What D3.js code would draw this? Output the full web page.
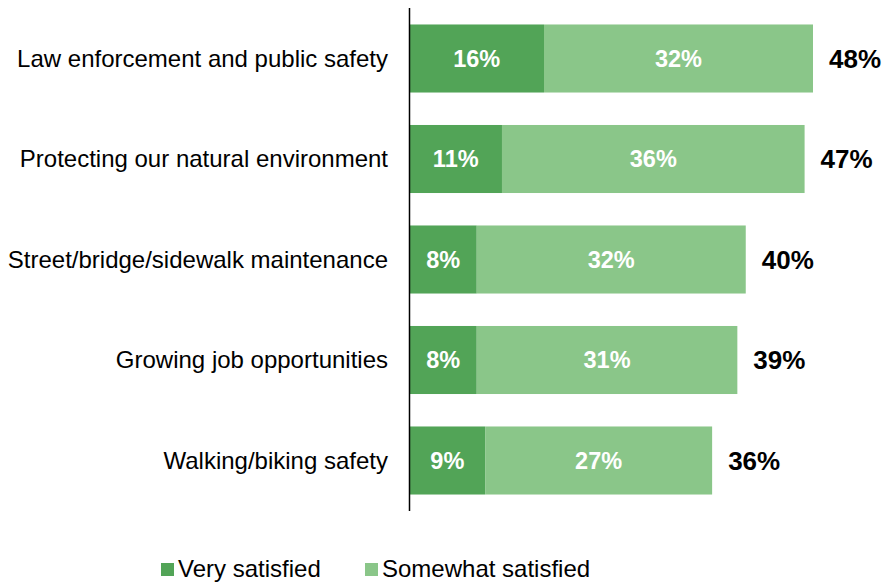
<!DOCTYPE html>
<html>
<head>
<meta charset="utf-8">
<script src="https://cdn.jsdelivr.net/npm/d3@7"></script>
<style>
  body { margin: 0; background: #fff; }
  svg { font-family: "Liberation Sans", Arial, sans-serif; }
</style>
</head>
<body>
<svg id="chart" width="885" height="583"></svg>
<script>
// Data
var categories = [
  "Law enforcement and public safety",
  "Protecting our natural environment",
  "Street/bridge/sidewalk maintenance",
  "Growing job opportunities",
  "Walking/biking safety"
];
var verySatisfied = [16, 11, 8, 8, 9];
var somewhatSatisfied = [32, 36, 32, 31, 27];
var totals = [48, 47, 40, 39, 36];
var seriesNames = ["Very satisfied", "Somewhat satisfied"];
var seriesColors = ["#52a457", "#8ac689"];

var svg = d3.select("#chart");

// Scales
var x = d3.scaleLinear()
    .domain([0, 48])
    .range([409.5, 813]);

var y = d3.scaleBand()
    .domain(categories)
    .range([8, 511])
    .paddingInner(0.323)
    .paddingOuter(0.164);

var rows = categories.map(function(c, i) {
  return { cat: c, v: verySatisfied[i], s: somewhatSatisfied[i], t: totals[i] };
});

var g = svg.selectAll(".row")
    .data(rows)
    .enter().append("g")
    .attr("class", "row");

// Very satisfied segment
g.append("rect")
    .attr("x", x(0))
    .attr("y", function(d) { return y(d.cat); })
    .attr("width", function(d) { return x(d.v) - x(0); })
    .attr("height", y.bandwidth())
    .attr("fill", seriesColors[0]);

// Somewhat satisfied segment
g.append("rect")
    .attr("x", function(d) { return x(d.v); })
    .attr("y", function(d) { return y(d.cat); })
    .attr("width", function(d) { return x(d.v + d.s) - x(d.v); })
    .attr("height", y.bandwidth())
    .attr("fill", seriesColors[1]);

// Segment labels
g.append("text")
    .attr("x", function(d) { return (x(0) + x(d.v)) / 2; })
    .attr("y", function(d) { return y(d.cat) + y.bandwidth() / 2; })
    .attr("dy", "0.35em")
    .attr("text-anchor", "middle")
    .attr("fill", "#fff")
    .style("font-weight", "bold")
    .style("font-size", "23.5px")
    .text(function(d) { return d.v + "%"; });

g.append("text")
    .attr("x", function(d) { return (x(d.v) + x(d.v + d.s)) / 2; })
    .attr("y", function(d) { return y(d.cat) + y.bandwidth() / 2; })
    .attr("dy", "0.35em")
    .attr("text-anchor", "middle")
    .attr("fill", "#fff")
    .style("font-weight", "bold")
    .style("font-size", "23.5px")
    .text(function(d) { return d.s + "%"; });

// Totals
g.append("text")
    .attr("x", function(d) { return x(d.v + d.s) + 16; })
    .attr("y", function(d) { return y(d.cat) + y.bandwidth() / 2; })
    .attr("dy", "0.35em")
    .attr("fill", "#000")
    .style("font-weight", "bold")
    .style("font-size", "26px")
    .text(function(d) { return d.t + "%"; });

// Category labels
g.append("text")
    .attr("x", 388)
    .attr("y", function(d) { return y(d.cat) + y.bandwidth() / 2; })
    .attr("dy", "0.35em")
    .attr("text-anchor", "end")
    .attr("fill", "#000")
    .style("font-size", "24px")
    .text(function(d) { return d.cat; });

// Axis line
svg.append("line")
    .attr("x1", 409.5).attr("x2", 409.5)
    .attr("y1", 8).attr("y2", 511)
    .attr("stroke", "#000")
    .attr("stroke-width", 1.5);

// Legend
var legendX = [161, 365];
var legend = svg.selectAll(".legend")
    .data(seriesNames)
    .enter().append("g")
    .attr("class", "legend")
    .attr("transform", function(d, i) { return "translate(" + legendX[i] + ",563)"; });

legend.append("rect")
    .attr("width", 13)
    .attr("height", 13)
    .attr("fill", function(d, i) { return seriesColors[i]; });

legend.append("text")
    .attr("x", 17)
    .attr("y", 14)
    .style("font-size", "24px")
    .attr("fill", "#000")
    .text(function(d) { return d; });
</script>
</body>
</html>
